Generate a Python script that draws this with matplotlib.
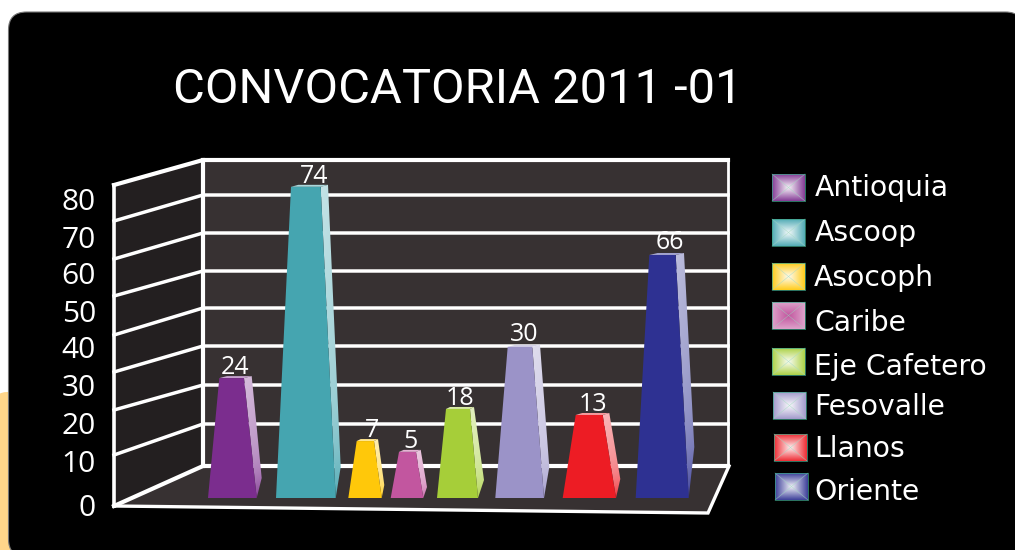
import numpy as np
import matplotlib
matplotlib.use("Agg")
import matplotlib.pyplot as plt
from matplotlib.patches import Polygon, FancyBboxPatch, Rectangle
from matplotlib.colors import to_rgb

# ---- data ----
categories = ["Antioquia", "Ascoop", "Asocoph", "Caribe", "Eje Cafetero", "Fesovalle", "Llanos", "Oriente"]
value_labels = [24, 74, 7, 5, 18, 30, 13, 66]
# bar heights as actually drawn, read against the front edge of the axis
drawn_heights = [29.9, 77.6, 14.2, 11.5, 22.2, 37.7, 20.7, 60.6]
bar_colors = ["#7B2D8E", "#45A5B0", "#FFC80A", "#C2569F", "#A6CE39", "#9B93C8", "#ED1C24", "#2E3192"]
tick_values = [0, 10, 20, 30, 40, 50, 60, 70, 80]
title_text = "CONVOCATORIA 2011 -01"

# ---- layout (canvas pixels) ----
W, H = 1015, 550
BASE_Y = 498
PX_PER_UNIT = 4.01
wall_front_y = [506, 455, 410, 372, 335, 296, 259, 221, 185]
wall_back_y = [466, 424, 385, 346, 308, 271, 233, 195, 160]
tick_label_y = [508, 465, 426, 388, 351, 314, 277, 240, 202]
X_FRONT, X_BACK, X_RIGHT = 114, 203, 728
FLOOR_CORNER = (708, 513)

base_l = [208, 276, 348.3, 390.7, 437, 495.3, 562.7, 635.7]
base_r = [256.7, 335.7, 381.7, 423.3, 478, 544, 616, 688.7]
top_l = [219.3, 291, 356.7, 399, 446, 507.7, 575.7, 649.3]
top_r = [244, 320.7, 374, 416, 470, 532.3, 602.7, 675.7]
side_top_x = [251.7, 328, 378, 420.7, 474, 540, 609.3, 684]
kink_x = [261.7, 340.7, 384.3, 427, 484, 549.3, 620.3, 694.3]
kink_rise = [20, 31, 13, 11, 18, 31, 19, 51]
label_x = [235, 314, 372, 411, 460, 524, 593, 670]
label_gap = [-4, -4, -4, -4, -4, -2, -4, -2]

swatch_x = [772, 772, 772, 772, 772, 773, 774, 775]
swatch_y = [174, 219, 263, 302, 348, 392, 434, 473]
legend_text_x = [815, 815, 814, 814, 814, 814, 814, 814]
legend_text_y = [188, 233, 278, 323, 367, 407, 449, 492]
SW_W, SW_H = 33, 27

NUM_FONT = ["Open Sans", "DejaVu Sans"]
TITLE_FONT = ["Roboto", "Open Sans", "DejaVu Sans"]

fig = plt.figure(figsize=(W / 100, H / 100), dpi=100, facecolor="white")
ax = fig.add_axes([0, 0, 1, 1])
ax.axis("off")


def mix(c, t):
    """Blend colour c towards white by t (array or scalar)."""
    c = np.array(to_rgb(c))
    t = np.asarray(t)[..., None]
    return c * (1 - t) + t


# ---- page ----
ax.add_patch(FancyBboxPatch((-5, 392), 30, 180, boxstyle="round,pad=0,rounding_size=12",
                            fc="#FFD68A", ec="none", zorder=0))
ax.add_patch(FancyBboxPatch((8.5, 12), 1015, 545, boxstyle="round,pad=0,rounding_size=18",
                            fc="black", ec="#777777", lw=0.8, zorder=1))

# ---- walls ----
GRID = "white"
ax.add_patch(Rectangle((X_BACK, wall_back_y[-1]), X_RIGHT - X_BACK, wall_back_y[0] - wall_back_y[-1],
                       fc="#373132", ec="none", zorder=2))
ax.add_patch(Polygon([(X_FRONT, wall_front_y[-1]), (X_BACK, wall_back_y[-1]), (X_BACK, wall_back_y[0]),
                      (X_FRONT, wall_front_y[0])], fc="#231F20", ec="none", zorder=2))
ax.add_patch(Polygon([(X_FRONT, wall_front_y[0]), (X_BACK, wall_back_y[0]), (X_RIGHT, wall_back_y[0]),
                      FLOOR_CORNER], fc="#373132", ec="none", zorder=2))
for i, (fy, by) in enumerate(zip(wall_front_y, wall_back_y)):
    lw = 3.0 if i in (0, 8) else 2.5
    ax.plot([X_FRONT, X_BACK, X_RIGHT], [fy, by, by], color=GRID, lw=lw, solid_capstyle="projecting",
            solid_joinstyle="miter", zorder=3)
ax.plot([X_FRONT, X_FRONT], [wall_front_y[0], wall_front_y[-1]], color=GRID, lw=2.6, zorder=3)
ax.plot([X_BACK, X_BACK], [wall_back_y[0], wall_back_y[-1]], color=GRID, lw=3.0, zorder=3)
ax.plot([X_RIGHT, X_RIGHT], [wall_back_y[0], wall_back_y[-1]], color=GRID, lw=2.0, zorder=3)
ax.plot([X_FRONT, FLOOR_CORNER[0], X_RIGHT + 1], [wall_front_y[0], FLOOR_CORNER[1], wall_back_y[0]],
        color=GRID, lw=2.4, solid_joinstyle="miter", zorder=3)

# ---- bars ----
for i, h in enumerate(drawn_heights):
    c = bar_colors[i]
    top_y = BASE_Y - h * PX_PER_UNIT
    ky = BASE_Y - kink_rise[i]
    # top face
    ax.add_patch(Polygon([(top_l[i], top_y), (top_l[i] + (side_top_x[i] - top_r[i]), top_y - 2),
                          (side_top_x[i], top_y - 2), (top_r[i], top_y)],
                         fc=mix(c, 0.55), ec="none", zorder=5))
    # side face with a soft gradient, darkening towards the foot
    side = Polygon([(top_r[i], top_y), (side_top_x[i], top_y - 2), (kink_x[i], ky), (base_r[i], BASE_Y)],
                   fc="none", ec="none", zorder=5)
    ax.add_patch(side)
    ny, nx = 64, 16
    ty = np.linspace(0, 1, ny)[:, None]
    tx = np.linspace(0, 1, nx)[None, :]
    shade = np.clip(0.68 - 0.22 * ty - 0.35 * ty ** 6 - 0.05 * tx, 0.06, 1)
    im = ax.imshow(mix(c, shade), extent=(top_r[i], kink_x[i] + 1, BASE_Y, top_y - 2), origin="upper",
                   aspect="auto", interpolation="bilinear", zorder=5)
    im.set_clip_path(side)
    # front face
    ax.add_patch(Polygon([(base_l[i], BASE_Y), (top_l[i], top_y), (top_r[i], top_y), (base_r[i], BASE_Y)],
                         fc=c, ec="none", zorder=6))
    ax.text(label_x[i], top_y - 2 - label_gap[i], str(value_labels[i]), color="white", ha="center", va="bottom",
            fontsize=18, family=NUM_FONT, zorder=7)

# ---- tick labels ----
for v, y in zip(tick_values, tick_label_y):
    ax.text(96, y, str(v), color="white", ha="right", va="center", fontsize=21.5, family=NUM_FONT, zorder=7)

# ---- title ----
ax.text(173, 90, title_text, color="white", ha="left", va="center", fontsize=35.2, family=TITLE_FONT, zorder=7)

# ---- legend ----
for i, name in enumerate(categories):
    c = bar_colors[i]
    u = np.abs(np.linspace(-1, 1, SW_W * 2))[None, :]
    v = np.abs(np.linspace(-1, 1, SW_H * 2))[:, None]
    d = np.maximum(u, v)
    if name == "Caribe":
        img = mix(c, 0.45 * d)
    else:
        img = mix(c, 0.85 * (1 - d) + 0.08)
    x0, y0 = swatch_x[i], swatch_y[i]
    ax.imshow(img, extent=(x0, x0 + SW_W, y0 + SW_H, y0), origin="upper", aspect="auto",
              interpolation="bilinear", zorder=5)
    ax.plot([x0, x0 + SW_W], [y0, y0 + SW_H], color="#9FD8C0", lw=0.4, alpha=0.7, zorder=6)
    ax.plot([x0, x0 + SW_W], [y0 + SW_H, y0], color="#9FD8C0", lw=0.4, alpha=0.7, zorder=6)
    ax.add_patch(Rectangle((x0, y0), SW_W, SW_H, fc="none", ec="#3FA58A", lw=0.5, zorder=6))
    ax.text(legend_text_x[i], legend_text_y[i], name, color="white", ha="left", va="center",
            fontsize=20.3, family=["DejaVu Sans"], zorder=7)

ax.set_xlim(0, W)
ax.set_ylim(H, 0)
fig.savefig("out.png", dpi=100, facecolor="white")
